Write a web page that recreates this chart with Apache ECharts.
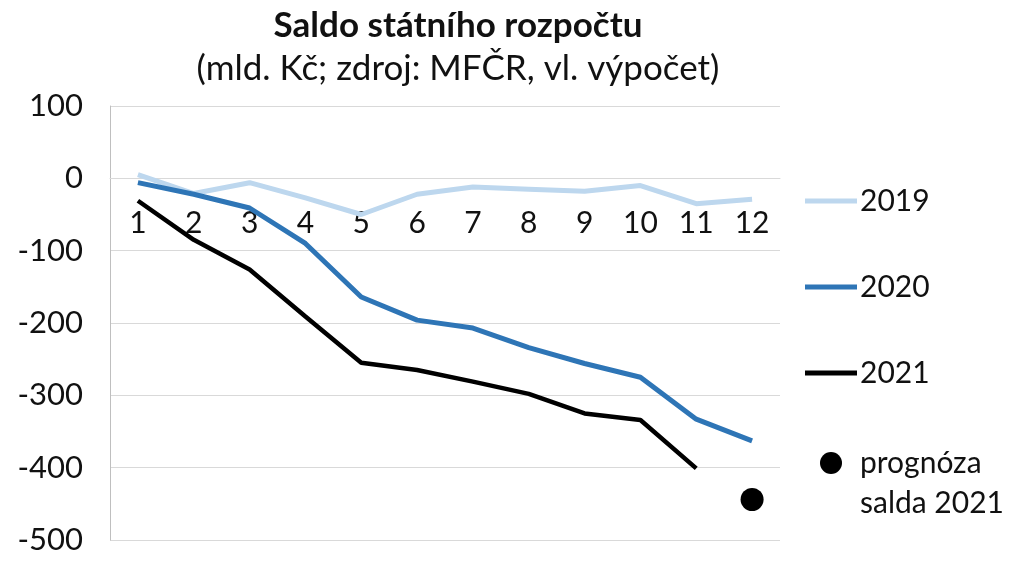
<!DOCTYPE html>
<html>
<head>
<meta charset="utf-8">
<script src="https://cdn.jsdelivr.net/npm/echarts@6/dist/echarts.min.js"></script>
<style>html,body{margin:0;padding:0;background:#fff;}#c{width:1024px;height:568px;}</style>
</head>
<body>
<div id="c"></div>
<script>
const months = ['1','2','3','4','5','6','7','8','9','10','11','12'];
const s2019 = [5, -21, -6, -27, -50, -22, -12, -15, -18, -10, -35, -29];
const s2020 = [-6, -22, -41, -90, -164, -196, -207, -234, -256, -275, -333, -363];
const s2021 = [-31, -85, -126, -191, -255, -265, -281, -298, -325, -334, -401];
const forecast2021 = [[11, -444]];
const yTicks = {min: -500, max: 100, interval: 100};

const FONT = 'Lato';
const TXT = '#111';
const GRID = {left: 110, right: 244, top: 106, bottom: 28};
const plotH = 568 - GRID.top - GRID.bottom;
const zeroOffset = -plotH * (0 - yTicks.min) / (yTicks.max - yTicks.min);

const chart = echarts.init(document.getElementById('c'));
function lg(name, top, icon, left, extra) {
  return Object.assign({
    data: [{name: name, icon: icon}],
    left: left, top: top, orient: 'vertical', padding: 0,
    itemWidth: 52, itemHeight: icon === 'circle' ? 22 : 5, itemGap: 0,
    textStyle: {fontFamily: FONT, fontSize: 30, color: TXT, lineHeight: 30, padding: [0,0,0,-2]},
    selectedMode: false
  }, extra || {});
}
chart.setOption({
  animation: false,
  title: {
    text: 'Saldo státního rozpočtu',
    subtext: '(mld. Kč; zdroj: MFČR, vl. výpočet)',
    left: 458, top: 8, textAlign: 'center', itemGap: 8, padding: 0,
    textStyle: {fontFamily: FONT, fontSize: 35, fontWeight: 'bold', color: TXT},
    subtextStyle: {fontFamily: FONT, fontSize: 35, color: TXT}
  },
  grid: Object.assign({containLabel: false, outerBoundsMode: 'none'}, GRID),
  legend: [
    lg('2019', 186, 'rect', 805),
    lg('2020', 272, 'rect', 805),
    lg('2021', 358, 'rect', 805),
    lg('prognóza salda 2021', 448, 'circle', 820, {
      formatter: function () { return 'prognóza'; }
    })
  ],
  graphic: [{
    type: 'text', left: 860, top: 488,
    style: {text: 'salda 2021', fontFamily: FONT, fontSize: 30, fill: TXT}
  }],
  xAxis: {
    type: 'category', data: months, boundaryGap: true,
    position: 'bottom', offset: zeroOffset,
    axisLine: {show: true, onZero: false, lineStyle: {color: '#d9d9d9', width: 1}},
    axisTick: {show: false},
    axisLabel: {fontFamily: FONT, fontSize: 30, color: TXT, margin: 30, interval: 0},
    splitLine: {show: false}
  },
  yAxis: {
    type: 'value', min: yTicks.min, max: yTicks.max, interval: yTicks.interval,
    axisLine: {show: true, lineStyle: {color: '#bfbfbf', width: 1}},
    axisTick: {show: false},
    axisLabel: {fontFamily: FONT, fontSize: 31, color: TXT, margin: 27},
    splitLine: {show: true, lineStyle: {color: '#d9d9d9', width: 1}}
  },
  series: [
    {name: '2019', type: 'line', data: s2019, symbol: 'none', lineStyle: {color: '#bdd7ee', width: 5}, itemStyle: {color: '#bdd7ee'}, z: 2},
    {name: '2020', type: 'line', data: s2020, symbol: 'none', lineStyle: {color: '#2e75b6', width: 5}, itemStyle: {color: '#2e75b6'}, z: 3},
    {name: '2021', type: 'line', data: s2021, symbol: 'none', lineStyle: {color: '#000', width: 4.5}, itemStyle: {color: '#000'}, z: 4},
    {name: 'prognóza salda 2021', type: 'scatter', data: forecast2021, symbol: 'circle', symbolSize: 23, itemStyle: {color: '#000', opacity: 1}, z: 5}
  ]
});
</script>
</body>
</html>
